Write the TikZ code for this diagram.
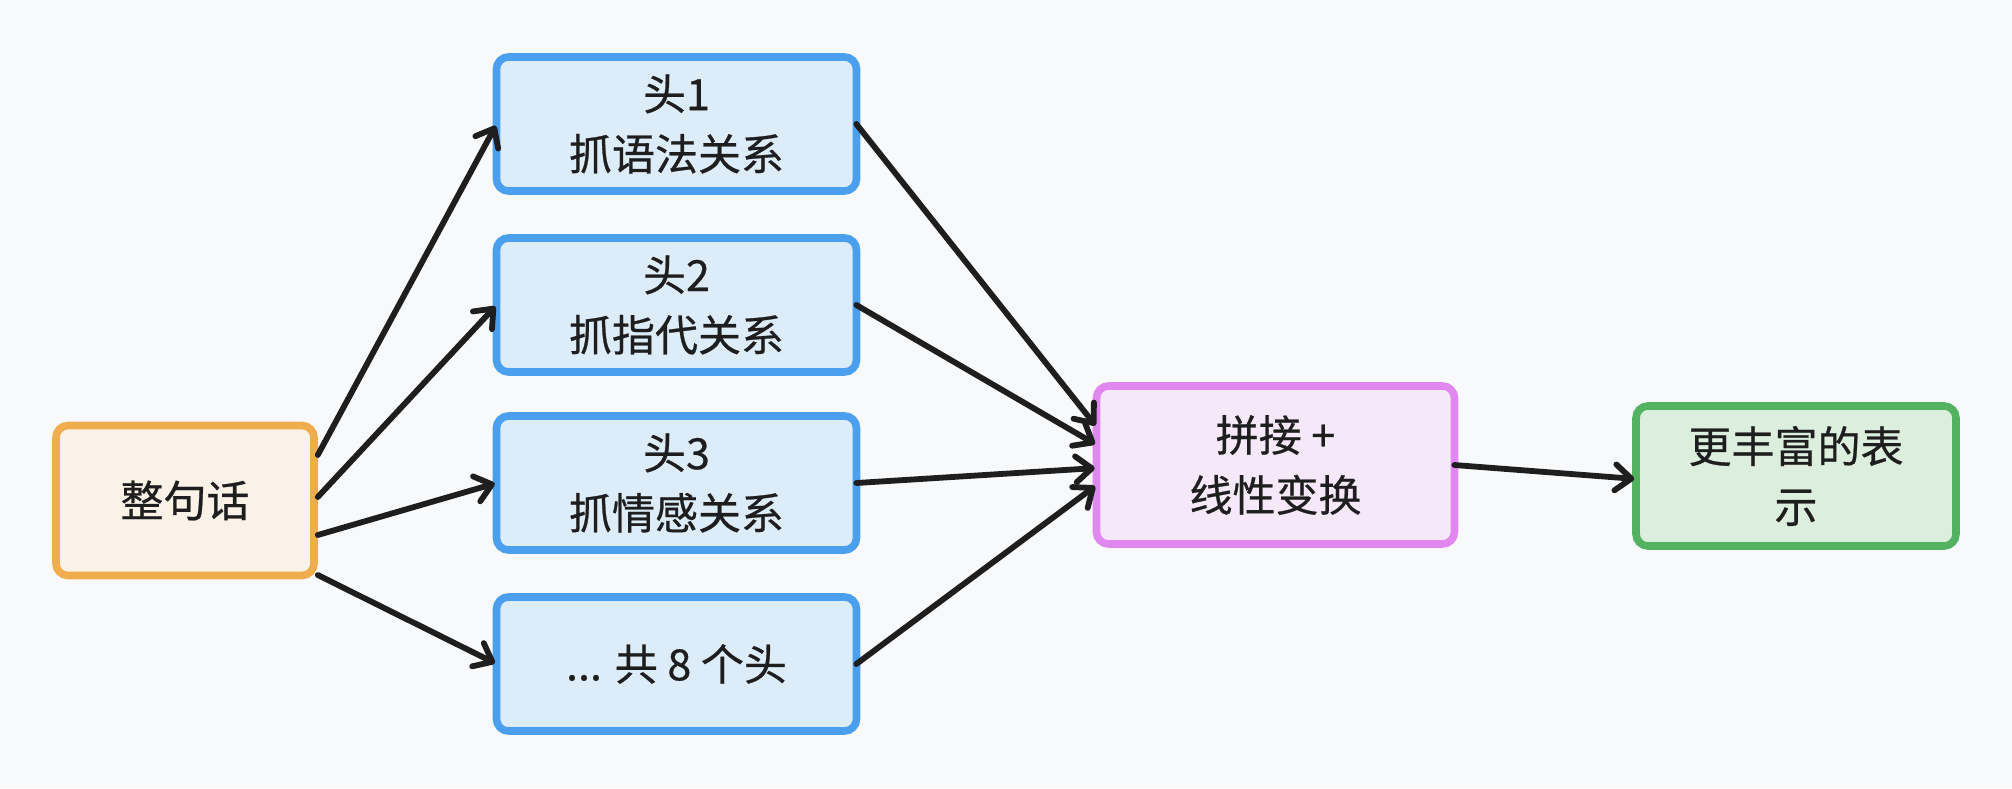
\documentclass[tikz,border=0pt]{standalone}
\usepackage{fontspec}
\setmainfont{Noto Sans CJK SC}[FakeBold=0.6]
\usetikzlibrary{arrows.meta}
\definecolor{bgc}{HTML}{F8F9FB}
\definecolor{orB}{HTML}{F0AD4E}
\definecolor{orF}{HTML}{FAF1E7}
\definecolor{blB}{HTML}{4A9FEE}
\definecolor{blF}{HTML}{DDECF9}
\definecolor{puB}{HTML}{E088F0}
\definecolor{puF}{HTML}{F5E8F9}
\definecolor{grB}{HTML}{52B260}
\definecolor{grF}{HTML}{DCEFDF}
\definecolor{ink}{HTML}{1E1E1E}
\tikzset{
  box/.style={rounded corners=6pt, line width=3.8pt, align=center, inner sep=0pt,
    font=\fontsize{21.5}{30}\selectfont, text=ink},
  obox/.style={box, draw=orB, fill=orF, minimum width=129pt, minimum height=75pt},
  bbox/.style={box, draw=blB, fill=blF, minimum width=180pt, minimum height=67pt},
  pbox/.style={box, draw=puB, fill=puF, minimum width=179pt, minimum height=79pt},
  gbox/.style={box, draw=grB, fill=grF, minimum width=160pt, minimum height=70pt},
  conn/.style={draw=ink, line width=2.9pt, line cap=round,
    -{Straight Barb[length=8pt,width=13pt,round]}, shorten >=1pt}
}
\begin{document}
\begin{tikzpicture}[x=0.5pt,y=-0.5pt]
\fill[bgc] (0,0) rectangle (2012,788);
\useasboundingbox (0,0) rectangle (2012,788);
\node[obox] (src) at (185,500.5) {整句话};
\node[bbox] (h1) at (676.5,124) {头1\\抓语法关系};
\node[bbox] (h2) at (676.5,305) {头2\\抓指代关系};
\node[bbox] (h3) at (676.5,483) {头3\\抓情感关系};
\node[bbox] (h4) at (676.5,664) {... 共 8 个头};
\node[pbox] (cat) at (1275.5,465) {拼接 +\\线性变换};
\node[gbox] (out) at (1796,476) {更丰富的表\\示};
\draw[conn] ([yshift=22.75pt]src.east) -- ([xshift=2pt]h1.west);
\draw[conn] ([yshift=1.75pt]src.east) -- ([xshift=2pt]h2.west);
\draw[conn] ([yshift=-17.25pt]src.east) -- ([xshift=2pt]h3.west);
\draw[conn] ([yshift=-37.25pt]src.east) -- ([xshift=2pt]h4.west);
\draw[conn] ([xshift=-2pt]h1.east) -- ([xshift=2pt,yshift=19pt]cat.west);
\draw[conn] ([xshift=-2pt]h2.east) -- ([xshift=2pt,yshift=10pt]cat.west);
\draw[conn] ([xshift=-2pt]h3.east) -- ([xshift=2pt,yshift=-1.5pt]cat.west);
\draw[conn] ([xshift=-2pt]h4.east) -- ([xshift=2pt,yshift=-10pt]cat.west);
\draw[conn] ([xshift=-2pt]cat.east) -- ([xshift=2pt,yshift=-1.5pt]out.west);
\end{tikzpicture}
\end{document}
